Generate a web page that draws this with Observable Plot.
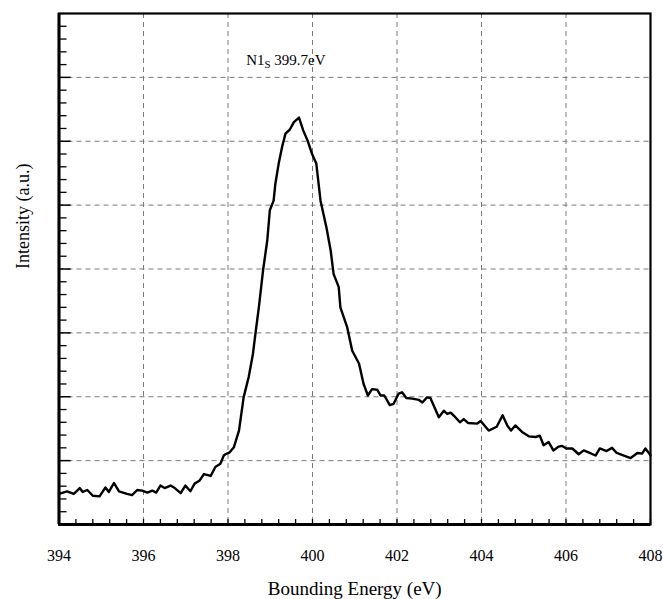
<!DOCTYPE html>
<html>
<head>
<meta charset="utf-8">
<script src="https://cdn.jsdelivr.net/npm/d3@7"></script>
<script src="https://cdn.jsdelivr.net/npm/@observablehq/plot@0.6"></script>
<style>
  html, body { margin: 0; padding: 0; background: #fff; }
  #chart svg { display: block; }
  #chart svg, #chart svg text, #chart svg g { font-family: "Liberation Serif", "Times New Roman", serif !important; }
</style>
</head>
<body>
<div id="chart"></div>
<script>
// Binding energy (eV)
const energy = [394.00,394.19,394.35,394.49,394.56,394.67,394.80,394.96,395.10,395.18,395.30,395.42,395.61,395.73,395.85,395.97,396.09,396.21,396.30,396.40,396.50,396.64,396.74,396.88,396.99,397.11,397.21,397.33,397.43,397.59,397.70,397.82,397.90,397.94,398.04,398.14,398.26,398.37,398.49,398.59,398.65,398.73,398.83,398.93,398.99,399.08,399.12,399.20,399.28,399.36,399.46,399.56,399.68,399.78,399.89,399.99,400.09,400.19,400.33,400.43,400.50,400.62,400.66,400.82,400.94,401.10,401.21,401.31,401.41,401.53,401.61,401.70,401.83,401.92,402.04,402.12,402.22,402.36,402.52,402.60,402.71,402.79,402.99,403.11,403.19,403.27,403.38,403.49,403.58,403.68,403.90,403.98,404.17,404.36,404.50,404.61,404.70,404.80,404.96,405.12,405.28,405.38,405.47,405.59,405.70,405.83,405.91,406.01,406.15,406.30,406.42,406.56,406.70,406.80,406.96,407.09,407.20,407.37,407.53,407.69,407.80,407.88,407.96,408.00];
// Intensity (a.u.)
const intensity = [0.48,0.52,0.48,0.57,0.51,0.54,0.45,0.44,0.58,0.51,0.65,0.52,0.48,0.46,0.54,0.53,0.50,0.53,0.50,0.61,0.57,0.61,0.57,0.49,0.61,0.52,0.64,0.69,0.79,0.76,0.90,0.95,1.08,1.10,1.13,1.21,1.47,1.99,2.31,2.67,2.99,3.40,3.98,4.45,4.92,5.07,5.33,5.65,5.91,6.12,6.18,6.30,6.37,6.17,6.00,5.80,5.65,5.07,4.65,4.29,3.92,3.72,3.40,3.09,2.72,2.52,2.20,2.02,2.12,2.11,2.02,2.02,1.87,1.89,2.05,2.07,1.98,1.97,1.95,1.91,1.99,1.98,1.68,1.78,1.73,1.75,1.68,1.60,1.65,1.59,1.58,1.62,1.47,1.53,1.71,1.55,1.47,1.55,1.45,1.38,1.37,1.39,1.24,1.29,1.16,1.22,1.23,1.19,1.19,1.10,1.16,1.12,1.08,1.19,1.15,1.20,1.12,1.08,1.04,1.12,1.11,1.19,1.12,1.08];

const xTickLabels = [394,396,398,400,402,404,406,408];
const xGrid = [396,398,400,402,404,406];
const yGrid = [1,2,3,4,5,6,7];
const xMinorTicks = d3.range(0, 36).map(i => 394 + i * 0.4);
const yMinorTicks = d3.range(1, 40).map(i => i * 0.2);
const peakLabel = {x: 398.43, y: 7.19, element: "N1", sub: "S", value: " 399.7eV"};
const xLabel = "Bounding Energy (eV)";
const yLabel = "Intensity (a.u.)";

const data = energy.map((e, i) => ({e, v: intensity[i]}));

const W = 663, H = 599, mL = 58.5, mR = 13, mT = 13, mB = 75;
const frameW = W - mL - mR, frameH = H - mT - mB;
const font = "Liberation Serif, Times New Roman, serif";

const chart = Plot.plot({
  width: W,
  height: H,
  marginLeft: mL,
  marginRight: mR,
  marginTop: mT,
  marginBottom: mB,
  style: {fontFamily: font, background: "#fff", color: "#000"},
  x: {domain: [394, 408]},
  y: {domain: [0, 8]},
  marks: [
    Plot.ruleX(xGrid, {x: d => d, stroke: "#7a7a7a", strokeWidth: 1, strokeDasharray: "5,4"}),
    Plot.ruleY(yGrid, {y: d => d, stroke: "#7a7a7a", strokeWidth: 1, strokeDasharray: "5,4"}),
    Plot.tickY(yMinorTicks.filter(d => Math.abs(d - Math.round(d)) > 1e-6), {y: d => d, insetRight: frameW - 8, stroke: "#000", strokeWidth: 1.3}),
    Plot.tickY(yGrid, {y: d => d, insetRight: frameW - 12, stroke: "#000", strokeWidth: 1.5}),
    Plot.tickX(xMinorTicks, {x: d => d, insetTop: frameH - 5, stroke: "#000", strokeWidth: 1.3}),
    Plot.axisX({ticks: xTickLabels, tickSize: 0, tickPadding: 25, fontSize: 16, fontFamily: font, tickFormat: d => String(d)}),
    Plot.axisY({ticks: [], tickSize: 0}),
    Plot.line(data, {x: "e", y: "v", stroke: "#000", strokeWidth: 2.4, strokeLinejoin: "round"}),
    Plot.frame({stroke: "#000", strokeWidth: 2.2}),
    Plot.ruleX([394], {x: d => d, stroke: "#000", strokeWidth: 3}),
    Plot.ruleY([0], {y: d => d, stroke: "#000", strokeWidth: 3}),
    Plot.text([peakLabel], {x: "x", y: "y", text: "element", textAnchor: "start", lineAnchor: "bottom", fontSize: 15, fontFamily: font}),
    Plot.text([peakLabel], {x: "x", y: "y", text: "sub", textAnchor: "start", lineAnchor: "bottom", fontSize: 11, dx: 18.3, dy: 3, fontFamily: font}),
    Plot.text([peakLabel], {x: "x", y: "y", text: "value", textAnchor: "start", lineAnchor: "bottom", fontSize: 15, dx: 24.4, fontFamily: font}),
    Plot.text([xLabel], {frameAnchor: "bottom", lineAnchor: "bottom", dy: 70, fontSize: 19, fontFamily: font}),
    Plot.text([yLabel], {frameAnchor: "left", rotate: -90, dx: -36, fontSize: 18, fontFamily: font})
  ]
});

document.getElementById("chart").appendChild(chart);
</script>
</body>
</html>
